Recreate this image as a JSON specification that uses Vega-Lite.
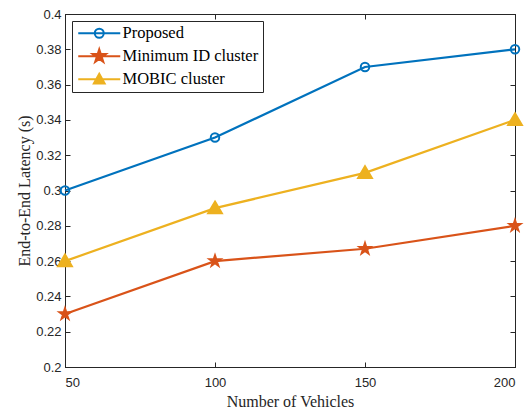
{
  "$schema": "https://vega.github.io/schema/vega-lite/v6.json",
  "width": 450,
  "height": 353,
  "autosize": {"type": "none"},
  "padding": {"left": 65, "top": 14, "right": 15, "bottom": 44},
  "background": "white",
  "config": {
    "view": {"stroke": "#262626", "strokeWidth": 1},
    "axis": {
      "grid": false,
      "domainColor": "#262626",
      "tickColor": "#262626",
      "labelColor": "#262626",
      "titleColor": "#262626",
      "labelFont": "Liberation Sans",
      "labelFontSize": 13,
      "titleFont": "Liberation Serif",
      "titleFontSize": 16,
      "titleFontWeight": "normal",
      "tickSize": -5,
      "domainWidth": 1,
      "tickWidth": 1
    },
    "legend": {
      "orient": "top-left",
      "offset": 7,
      "padding": 4,
      "fillColor": "white",
      "strokeColor": "#262626",
      "labelFont": "Liberation Serif",
      "labelFontSize": 16.5,
      "labelColor": "black",
      "symbolStrokeWidth": 2,
      "symbolSize": 144,
      "symbolOpacity": 1,
      "symbolOffset": 15,
      "labelOffset": 15,
      "rowPadding": 3
    }
  },
  "data": {
    "values": [
      {"n": 50, "series": "Proposed", "v": 0.30},
      {"n": 100, "series": "Proposed", "v": 0.33},
      {"n": 150, "series": "Proposed", "v": 0.37},
      {"n": 200, "series": "Proposed", "v": 0.38},
      {"n": 50, "series": "Minimum ID cluster", "v": 0.23},
      {"n": 100, "series": "Minimum ID cluster", "v": 0.26},
      {"n": 150, "series": "Minimum ID cluster", "v": 0.267},
      {"n": 200, "series": "Minimum ID cluster", "v": 0.28},
      {"n": 50, "series": "MOBIC cluster", "v": 0.26},
      {"n": 100, "series": "MOBIC cluster", "v": 0.29},
      {"n": 150, "series": "MOBIC cluster", "v": 0.31},
      {"n": 200, "series": "MOBIC cluster", "v": 0.34}
    ]
  },
  "encoding": {
    "x": {
      "field": "n",
      "type": "quantitative",
      "scale": {"domain": [50, 200], "nice": false, "zero": false}
    },
    "y": {
      "field": "v",
      "type": "quantitative",
      "scale": {"domain": [0.2, 0.4], "nice": false, "zero": false}
    }
  },
  "layer": [
    {
      "mark": {"type": "line", "strokeWidth": 2.2},
      "encoding": {
        "x": {
          "field": "n",
          "type": "quantitative",
          "axis": {"title": "Number of Vehicles", "orient": "bottom", "values": [50, 100, 150, 200], "labelPadding": 14, "titlePadding": 4}
        },
        "y": {
          "field": "v",
          "type": "quantitative",
          "axis": {
            "title": "End-to-End Latency (s)",
            "orient": "left",
            "values": [0.2, 0.22, 0.24, 0.26, 0.28, 0.3, 0.32, 0.34, 0.36, 0.38, 0.4],
            "format": "~g",
            "labelPadding": 9,
            "titlePadding": 3
          }
        },
        "color": {
          "field": "series",
          "type": "nominal",
          "scale": {"domain": ["Proposed", "Minimum ID cluster", "MOBIC cluster"], "range": ["#0072BD", "#D95319", "#EDB120"]},
          "legend": null
        }
      }
    },
    {
      "mark": {"type": "point", "strokeWidth": 2, "opacity": 1},
      "encoding": {
        "x": {"field": "n", "type": "quantitative", "axis": null},
        "y": {"field": "v", "type": "quantitative", "axis": null},
        "stroke": {
          "field": "series",
          "type": "nominal",
          "scale": {"domain": ["Proposed", "Minimum ID cluster", "MOBIC cluster"], "range": ["#0072BD", "#D95319", "#EDB120"]},
          "legend": null
        },
        "fill": {
          "field": "series",
          "type": "nominal",
          "scale": {"domain": ["Proposed", "Minimum ID cluster", "MOBIC cluster"], "range": ["transparent", "#D95319", "#EDB120"]},
          "legend": null
        },
        "shape": {
          "field": "series",
          "type": "nominal",
          "scale": {
            "domain": ["Proposed", "Minimum ID cluster", "MOBIC cluster"],
            "range": [
              "circle",
              "M0,-1L0.2245,-0.309L0.951,-0.309L0.363,0.118L0.588,0.809L0,0.382L-0.588,0.809L-0.363,0.118L-0.951,-0.309L-0.2245,-0.309Z",
              "M0,-0.95L1,0.75L-1,0.75Z"
            ]
          },
          "legend": null
        },
        "size": {
          "field": "series",
          "type": "nominal",
          "scale": {"domain": ["Proposed", "Minimum ID cluster", "MOBIC cluster"], "range": [72, 190, 80]},
          "legend": null
        }
      }
    },
    {
      "mark": {"type": "point", "opacity": 0, "strokeWidth": 2},
      "encoding": {
        "x": {
          "field": "n",
          "type": "quantitative",
          "axis": {"orient": "top", "title": null, "labels": false, "values": [50, 100, 150, 200]}
        },
        "y": {
          "field": "v",
          "type": "quantitative",
          "axis": {"orient": "right", "title": null, "labels": false, "values": [0.2, 0.22, 0.24, 0.26, 0.28, 0.3, 0.32, 0.34, 0.36, 0.38, 0.4]}
        },
        "stroke": {
          "field": "series",
          "type": "nominal",
          "title": null,
          "scale": {"domain": ["Proposed", "Minimum ID cluster", "MOBIC cluster"], "range": ["#0072BD", "#D95319", "#EDB120"]}
        },
        "fill": {
          "field": "series",
          "type": "nominal",
          "title": null,
          "scale": {"domain": ["Proposed", "Minimum ID cluster", "MOBIC cluster"], "range": ["transparent", "#D95319", "#EDB120"]}
        },
        "shape": {
          "field": "series",
          "type": "nominal",
          "title": null,
          "scale": {
            "domain": ["Proposed", "Minimum ID cluster", "MOBIC cluster"],
            "range": [
              "M-3.5,0H3.5M-0.75,0A0.75,0.75 0 1,0 0.75,0A0.75,0.75 0 1,0 -0.75,0Z",
              "M-3.5,0H3.5M0,-1.15L0.258,-0.355L1.094,-0.355L0.417,0.136L0.676,0.93L0,0.439L-0.676,0.93L-0.417,0.136L-1.094,-0.355L-0.258,-0.355Z",
              "M-3.5,0H3.5M0,-0.9L0.9,0.7L-0.9,0.7Z"
            ]
          }
        }
      }
    }
  ],
  "resolve": {
    "scale": {"shape": "independent", "fill": "independent", "stroke": "independent", "size": "independent", "color": "independent"},
    "axis": {"x": "independent", "y": "independent"}
  }
}
